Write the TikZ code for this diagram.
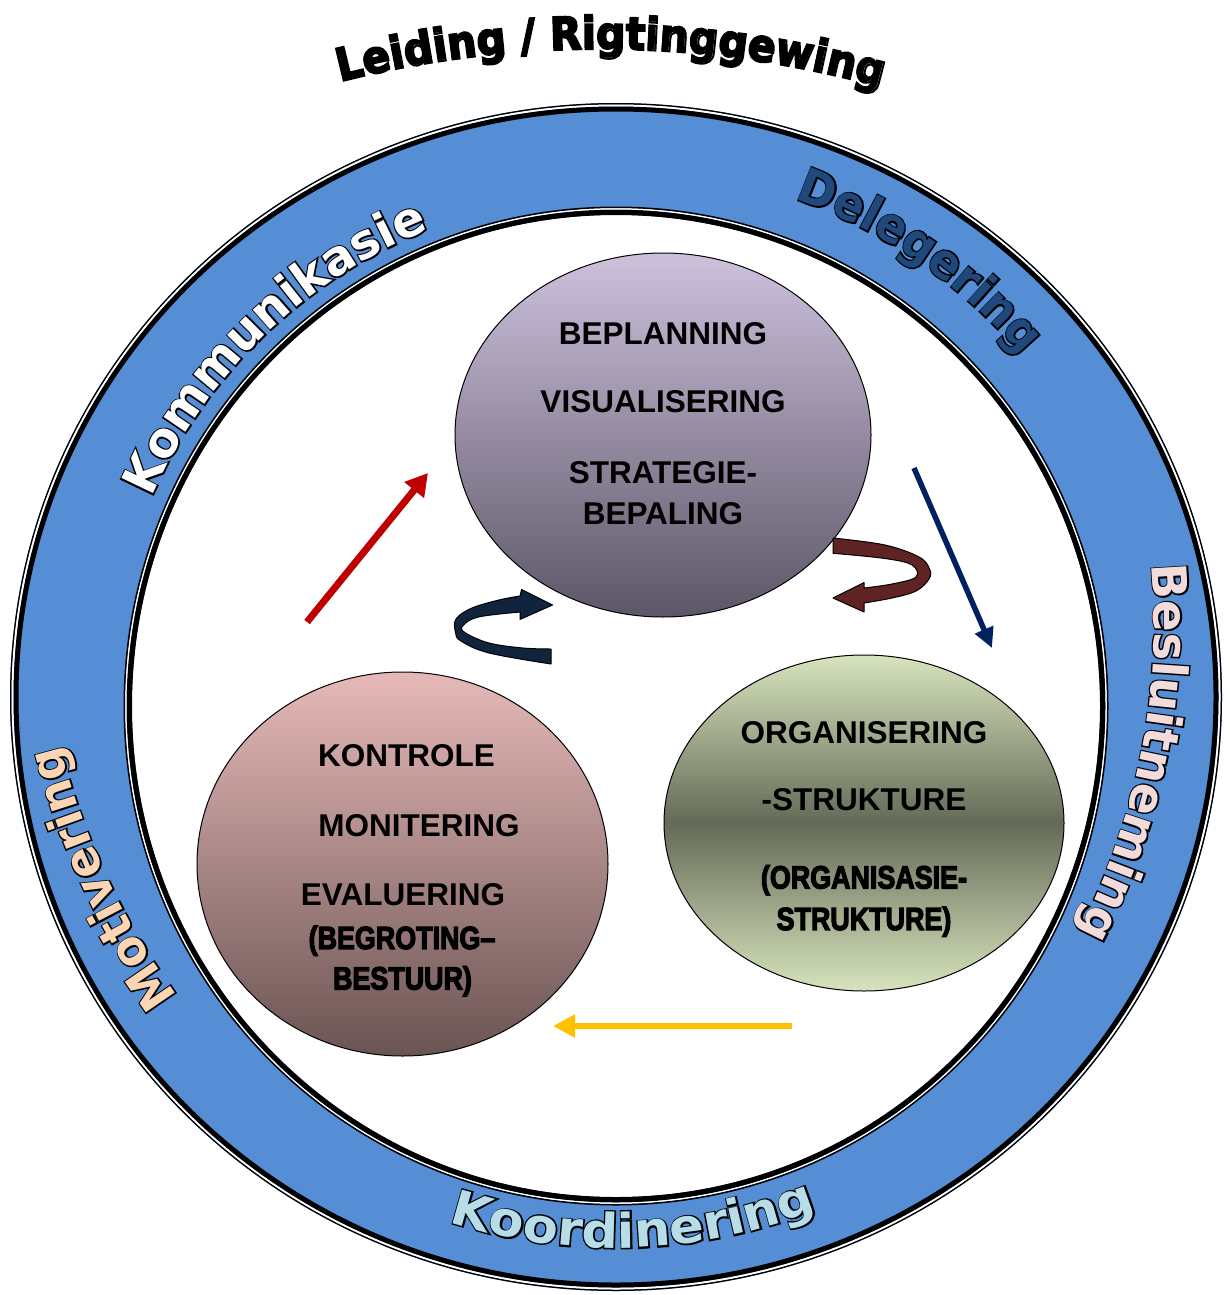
\documentclass[tikz,border=0pt]{standalone}
\usepackage{fontspec}
\setmainfont{Liberation Sans}
\newfontfamily\dejavu{DejaVu Sans}
\usetikzlibrary{shapes.geometric,arrows.meta}
\definecolor{ringblue}{HTML}{558ED5}
\definecolor{kommc}{HTML}{FFFFFF}
\definecolor{delegc}{HTML}{1F497D}
\definecolor{beslc}{HTML}{F2DCDB}
\definecolor{koorc}{HTML}{B7DEE8}
\definecolor{motic}{HTML}{FCD5B5}
\definecolor{plantop}{HTML}{CDC1DC}
\definecolor{planbot}{HTML}{5D5667}
\definecolor{orgl}{HTML}{D7E4BD}
\definecolor{orgd}{HTML}{646A57}
\definecolor{ctrltop}{HTML}{E6B9B8}
\definecolor{ctrlbot}{HTML}{6A5453}
\definecolor{redarr}{HTML}{C00000}
\definecolor{navyarr}{HTML}{002060}
\definecolor{goldarr}{HTML}{FFC000}
\definecolor{cnavy}{HTML}{10243E}
\definecolor{cbrown}{HTML}{5E2322}
\definecolor{titlec}{HTML}{000000}

% outlined text: black stroke layer (width #1, half of it outside the glyph) under the glyph filled in the current colour
\newcommand\outl[2]{\rlap{\special{pdf:literal direct 1 Tr #1 w 0 G}#2\special{pdf:literal direct 0 Tr}}#2}

\newcommand\ringfont{\dejavu\bfseries\fontsize{48}{50}\selectfont}
\newcommand\titlefont{\dejavu\bfseries\fontsize{45}{47}\selectfont}
\newcommand\slsh{/}

\tikzset{
  ringletter/.style={anchor=base, inner sep=0pt},
  bubble/.style={ellipse, draw=black, line width=1pt, inner sep=0pt},
  lbl/.style={anchor=base, inner sep=0pt, font=\fontsize{31.5}{33}\selectfont\bfseries},
  cnd/.style={anchor=base, inner sep=0pt, xscale=0.84, font=\fontsize{32}{34}\selectfont\bfseries},
  curvearrow/.style={draw=black, line width=1pt, line join=round},
}

\makeatletter
\let\stripPT\strip@pt
\makeatother

\newdimen\rtW \newdimen\rtC \newdimen\rtT
\newcount\rtN
\newsavebox\rtBox
% #1 cx, #2 cy, #3 baseline radius, #4 mid angle, #5 total angle, #6 dir,
% #7 font, #8 fill colour, #9 letters ; \rtStroke = outline stroke width
\def\rtStroke{2.8}
\newcommand\ringtext[9]{%
  \global\rtW=0pt
  \pgfinterruptpicture
  \foreach \chr in {#9}{\sbox\rtBox{#7\chr}\global\advance\rtW by \wd\rtBox}%
  \endpgfinterruptpicture
  \edef\rtWv{\stripPT\rtW}%
  \pgfmathsetmacro\rtF{(#5)*pi/180*(#3)/\rtWv}%
  \global\rtC=0pt
  \foreach \chr in {#9}{%
    \pgfinterruptpicture\sbox\rtBox{#7\chr}\global\rtT=\wd\rtBox\endpgfinterruptpicture
    \edef\rtCv{\stripPT\rtC}\edef\rtTv{\stripPT\rtT}%
    \pgfmathsetmacro\rtA{(#4)-(#6)*((\rtCv+0.5*\rtTv-0.5*\rtWv)*\rtF)/(#3)*180/pi}%
    \pgfmathsetmacro\rtR{\rtA-(#6)*90}%
    \global\advance\rtN by 1
    \node[ringletter, rotate=\rtR, xscale=\rtF] (rl\the\rtN) at ({#1+(#3)*cos(\rtA)},{#2+(#3)*sin(\rtA)}) {\color{#8}#7\outl{\rtStroke}{\chr}};
    \global\advance\rtC by \rtT
  }%
}

\begin{document}
\begin{tikzpicture}[x=1pt,y=1pt]
\useasboundingbox (0,0) rectangle (1230,-1295);
\fill[white] (0,0) rectangle (1230,-1295);

% ---- ring ----
\fill[ringblue] (616,-697) ellipse [x radius=606, y radius=594];
\draw[black, line width=1.5pt] (616,-697) ellipse [x radius=605.25, y radius=593.25];
\draw[white, line width=2pt] (616,-697) ellipse [x radius=603.5, y radius=591.5];
\draw[black, line width=5pt] (616,-697) ellipse [x radius=600, y radius=588];
\fill[white] (616,-706) ellipse [x radius=484, y radius=491];
\draw[black, line width=5.5pt] (616,-706) ellipse [x radius=486.75, y radius=493.75];
\draw[white, line width=1.5pt] (616,-706) ellipse [x radius=490.25, y radius=497.25];
\draw[black, line width=1.5pt] (616,-706) ellipse [x radius=491.75, y radius=498.75];

% ---- bubbles ----
\node[bubble, minimum width=416pt, minimum height=364pt, top color=plantop, bottom color=planbot] (plan) at (663,-435) {};
\node[bubble, minimum width=400pt, minimum height=336pt, top color=orgl, bottom color=orgl, middle color=orgd] (org) at (864,-823) {};
\node[bubble, minimum width=411pt, minimum height=384pt, top color=ctrltop, bottom color=ctrlbot] (ctrl) at (402.5,-864) {};

% ---- texts in bubbles ----
\node[lbl] (p1) at (663,-344.3) {BEPLANNING};
\node[lbl] (p2) at (663,-412.3) {VISUALISERING};
\node[lbl] (p3) at (663,-483.3) {STRATEGIE-};
\node[lbl] (p4) at (663,-524.3) {BEPALING};

\node[lbl] (o1) at (864,-743.3) {ORGANISERING};
\node[lbl] (o2) at (864,-810.3) {-STRUKTURE};
\node[cnd] (o3) at (864,-888.5) {\outl{1.3}{(ORGANISASIE-}};
\node[cnd] (o4) at (864,-930) {\outl{1.3}{STRUKTURE)}};

\node[lbl] (c1) at (406.5,-766.3) {KONTROLE};
\node[lbl] (c2) at (419,-836.3) {MONITERING};
\node[lbl] (c3) at (403,-905.3) {EVALUERING};
\node[cnd] (c4) at (402,-949) {\outl{1.3}{(BEGROTING–}};
\node[cnd] (c5) at (402.5,-989.5) {\outl{1.3}{BESTUUR)}};

% ---- straight arrows ----
\coordinate (ra) at (307,-622);
\coordinate (rb) at (428,-473);
\coordinate (na) at (914,-468);
\coordinate (nb) at (992,-648);
\coordinate (ga) at (792,-1026);
\coordinate (gb) at (553,-1026);
\draw[redarr, line width=7pt, -{Triangle[length=22pt,width=24pt]}] (ra) -- (rb);
\draw[navyarr, line width=5.5pt, -{Triangle[length=20pt,width=19pt]}] (na) -- (nb);
\draw[goldarr, line width=6.5pt, -{Triangle[length=22pt,width=22pt]}] (ga) -- (gb);

% ---- curved arrows ----
\draw[curvearrow, fill=cnavy]
  plot[smooth, tension=0.6] coordinates {(551,-664) (489,-653) (461,-641) (455.5,-632.5) (456,-619) (472,-608) (499,-600) (520,-596)}
  -- (521.6,-589.5) -- (552.6,-605) -- (520,-619.4) -- (520,-612)
  -- plot[smooth, tension=0.6] coordinates {(520,-612) (478.5,-617) (463,-625.6) (464.8,-632.5) (489,-643) (523,-648) (551,-649)}
  -- cycle;
\draw[curvearrow, fill=cbrown]
  plot[smooth, tension=0.6] coordinates {(833,-538) (885,-545) (919,-557) (929.6,-569) (929,-579) (916,-591) (892,-598) (864,-603)}
  -- (864,-612) -- (833,-598) -- (864,-582.6) -- (864,-588)
  -- plot[smooth, tension=0.6] coordinates {(864,-588) (892,-584) (916,-577) (912,-565) (885,-558.5) (833,-553.3)}
  -- cycle;

% ---- ring texts ----
\ringtext{616}{-701}{507}{134}{44.8}{1}{\ringfont}{kommc}{K,o,m,m,u,n,i,k,a,s,i,e}
\ringtext{616}{-701}{533}{55.4}{30}{1}{\ringfont}{delegc}{D,e,l,e,g,e,r,i,n,g}
\ringtext{485}{-623}{669}{-11.3}{32.6}{1}{\ringfont}{beslc}{B,e,s,l,u,i,t,n,e,m,i,n,g}
\ringtext{616}{-701}{547}{-88.1}{39.4}{-1}{\ringfont}{koorc}{K,o,o,r,d,i,n,e,r,i,n,g}
\ringtext{756}{-572}{717}{205.1}{22.3}{1}{\ringfont}{motic}{M,o,t,i,v,e,r,i,n,g}

% ---- title ----
\def\rtStroke{2.1}
\ringtext{600}{-1105}{1056}{89.4}{29.7}{1}{\titlefont}{titlec}{L,e,i,d,i,n,g,\ ,\slsh,\ ,R,i,g,t,i,n,g,g,e,w,i,n,g}
\end{tikzpicture}
\end{document}
